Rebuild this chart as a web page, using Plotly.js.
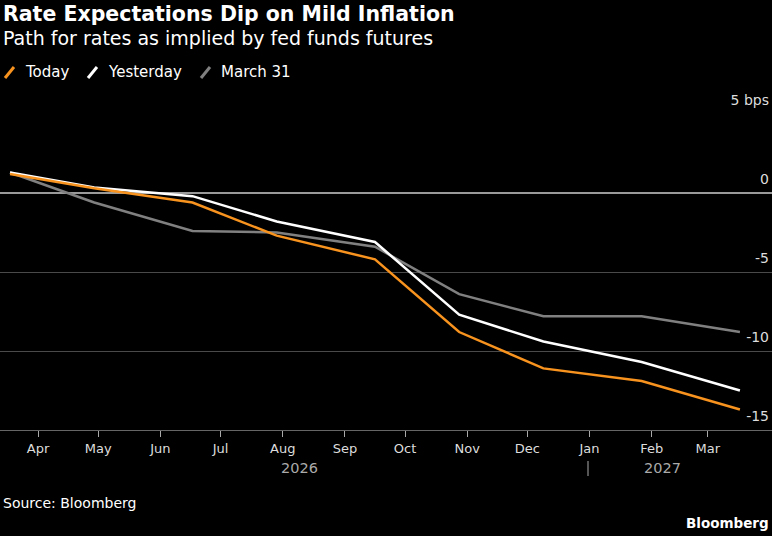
<!DOCTYPE html>
<html><head><meta charset="utf-8">
<script src="https://cdn.plot.ly/plotly-3.0.1.min.js"></script>
<style>html,body{margin:0;padding:0;background:#000}</style>
</head><body><div id="chart" style="width:772px;height:536px"></div>
<script>
const dates = ['2026-03-18','2026-04-29','2026-06-17','2026-07-29','2026-09-16','2026-10-28','2026-12-09','2027-01-27','2027-03-17'];
const today = [1.2, 0.3, -0.6, -2.7, -4.2, -8.8, -11.1, -11.9, -13.7];
const yesterday = [1.3, 0.35, -0.2, -1.8, -3.1, -7.7, -9.4, -10.7, -12.5];
const march31 = [1.3, -0.6, -2.4, -2.5, -3.4, -6.4, -7.8, -7.8, -8.8];
const monthTicks = ['2026-04-01','2026-05-01','2026-06-01','2026-07-01','2026-08-01','2026-09-01','2026-10-01','2026-11-01','2026-12-01','2027-01-01','2027-02-01','2027-03-01'];
const monthLabels = ['Apr','May','Jun','Jul','Aug','Sep','Oct','Nov','Dec','Jan','Feb','Mar'];
const yTicks = [5, 0, -5, -10, -15];
const yLabels = ['5 bps', '0', '-5', '-10', '-15'];
const seriesNames = ['Today', 'Yesterday', 'March 31'];
const seriesColors = ['#f7931e', '#ffffff', '#808080'];

const W = 772, H = 536, T = 114, B = 430;
const px = p => p / W;
const py = p => (B - p) / (B - T);
const FONT = '"DejaVu Sans", sans-serif';

const traces = [
  {x: dates, y: march31, name: seriesNames[2], line: {color: seriesColors[2], width: 2.5}},
  {x: dates, y: yesterday, name: seriesNames[1], line: {color: seriesColors[1], width: 2.5}},
  {x: dates, y: today, name: seriesNames[0], line: {color: seriesColors[0], width: 2.5}}
].map(t => Object.assign({type: 'scatter', mode: 'lines', hoverinfo: 'skip'}, t));

const annotations = [
  {x: px(1), y: py(14), text: '<b>Rate Expectations Dip on Mild Inflation</b>', font: {size: 20.5, color: '#fff'}},
  {x: px(1), y: py(38), text: 'Path for rates as implied by fed funds futures', font: {size: 19, color: '#fff'}},
  {x: px(1), y: py(503), text: 'Source: Bloomberg', font: {size: 14, color: '#fff'}},
  {x: px(771), y: py(523), text: '<b>Bloomberg</b>', xanchor: 'right', font: {size: 13.5, color: '#fff'}},
  {x: px(299), y: py(468), text: '2026', xanchor: 'center', font: {size: 14.5, color: '#aaa'}},
  {x: px(662), y: py(468), text: '2027', xanchor: 'center', font: {size: 14.5, color: '#aaa'}}
];
const legendX = [23, 106, 219];
seriesNames.forEach((n, i) => {
  annotations.push({x: px(legendX[i]), y: py(72), text: n, font: {size: 15, color: '#fff'}});
});
const shapes = [];
const iconX = [5, 88, 201];
seriesColors.forEach((c, i) => {
  shapes.push({type: 'line', xref: 'paper', yref: 'paper', x0: px(iconX[i]), y0: py(78), x1: px(iconX[i] + 9), y1: py(67), line: {color: c, width: 3}});
});
shapes.push({type: 'line', xref: 'paper', yref: 'paper', x0: px(588), y0: py(461), x1: px(588), y1: py(476), line: {color: '#aaa', width: 1}});
annotations.forEach(a => Object.assign(a, {xref: 'paper', yref: 'paper', showarrow: false, yanchor: 'middle', xanchor: a.xanchor || 'left', font: Object.assign({family: FONT}, a.font)}));

const layout = {
  width: W, height: H,
  paper_bgcolor: '#000', plot_bgcolor: '#000',
  margin: {l: 0, r: 0, t: T, b: H - B, pad: 0},
  showlegend: false,
  font: {family: FONT, color: '#ddd'},
  xaxis: {
    type: 'date', range: ['2026-03-13', '2027-04-02'],
    tickvals: monthTicks, ticktext: monthLabels,
    ticks: 'outside', ticklen: 6, tickcolor: '#aaa', tickwidth: 1,
    showline: true, linecolor: '#666', linewidth: 1,
    showgrid: false, zeroline: false,
    tickfont: {size: 13, color: '#ddd', family: FONT}
  },
  yaxis: {
    side: 'right', range: [-15, 5],
    tickvals: yTicks, ticktext: yLabels,
    ticklabelposition: 'inside top', ticklabeloverflow: 'allow',
    ticklabelshift: -4,
    ticks: '', showline: false,
    showgrid: true, gridcolor: '#4a4a4a', gridwidth: 1,
    zeroline: true, zerolinecolor: '#9a9a9a', zerolinewidth: 1.3,
    tickfont: {size: 14, color: '#ddd', family: FONT}
  },
  annotations: annotations,
  shapes: shapes
};
Plotly.newPlot('chart', traces, layout, {displayModeBar: false, staticPlot: true});
</script></body></html>
